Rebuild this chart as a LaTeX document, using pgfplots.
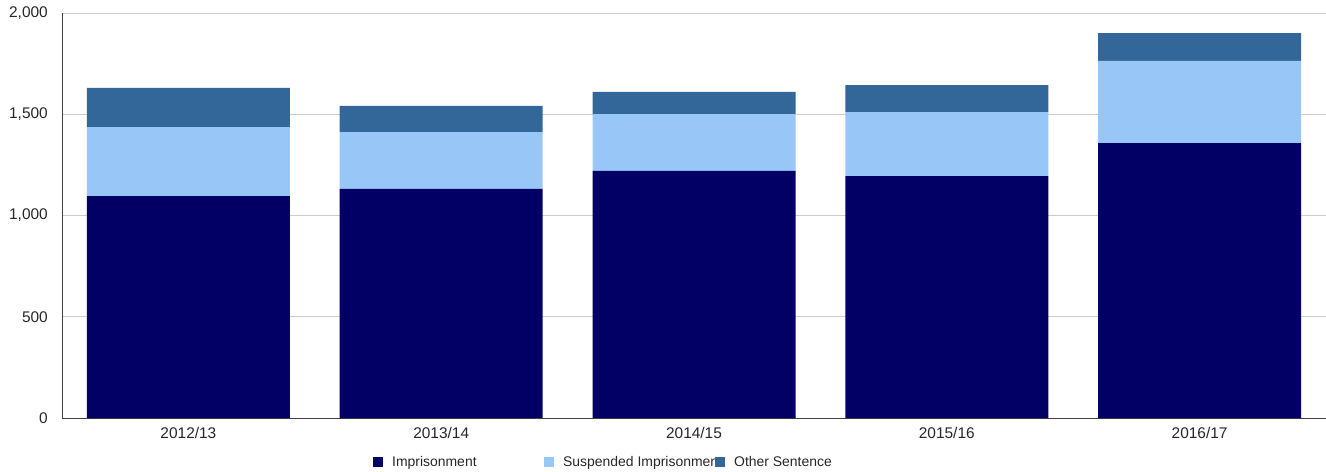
\documentclass[border=0pt]{standalone}
\usepackage{pgfplots}
\pgfplotsset{compat=1.18}
\usepackage{fontspec}
\setmainfont{Liberation Sans}
\definecolor{impC}{HTML}{020064}
\definecolor{susC}{HTML}{97C6F7}
\definecolor{othC}{HTML}{336699}
\definecolor{gridC}{HTML}{CCCCCC}
\begin{document}
\begin{tikzpicture}
\begin{axis}[
  scale only axis,
  width=1264bp, height=405bp,
  ybar stacked,
  bar width=0.803,
  xmin=-0.5, xmax=4.5,
  ymin=0, ymax=2000,
  xtick={0,1,2,3,4},
  xticklabels={2012/13,2013/14,2014/15,2015/16,2016/17},
  ytick={0,500,1000,1500,2000},
  major tick length=0pt,
  axis x line*=bottom,
  axis y line*=left,
  axis line style={-, black!75, line width=1pt},
  ymajorgrids,
  grid style={gridC, line width=0.8pt},
  /pgf/number format/assume math mode=true,
  /pgf/number format/1000 sep={,},
  tick label style={font=\fontsize{15.5}{18}\selectfont, text=black!85},
  yticklabel style={inner sep=0pt, xshift=-14bp},
  xticklabel style={inner sep=0pt, yshift=-9bp},
  legend style={draw=none, fill=none, inner sep=0pt, column sep=0pt,
    nodes={inner sep=0pt, font=\fontsize{14}{16}\selectfont, text=black!85},
    at={(axis description cs:0.2460,-0.1096)}, anchor=west},
  legend columns=3,
  legend cell align=left,
  /tikz/every odd column/.append style={column sep=9bp},
]
\addplot[fill=impC, draw=none, legend image code/.code={\fill[impC] (0bp,-5bp) rectangle (10bp,5bp);}]
  coordinates {(0,1096) (1,1131) (2,1220) (3,1195) (4,1358)};
\addlegendentry{\makebox[152bp][l]{Imprisonment}}
\addplot[fill=susC, draw=none, legend image code/.code={\fill[susC] (0bp,-5bp) rectangle (10bp,5bp);}]
  coordinates {(0,341) (1,281) (2,281) (3,316) (4,405)};
\addlegendentry{\makebox[152bp][l]{Suspended Imprisonment}}
\addplot[fill=othC, draw=none, legend image code/.code={\fill[othC] (0bp,-5bp) rectangle (10bp,5bp);}]
  coordinates {(0,193) (1,129) (2,109) (3,133) (4,138)};
\addlegendentry{Other Sentence}
\end{axis}
\pgfresetboundingbox
\path[use as bounding box] ([shift={(-62bp,-53bp)}]current axis.south west) rectangle ([shift={(0bp,13bp)}]current axis.north east);
\end{tikzpicture}
\end{document}
